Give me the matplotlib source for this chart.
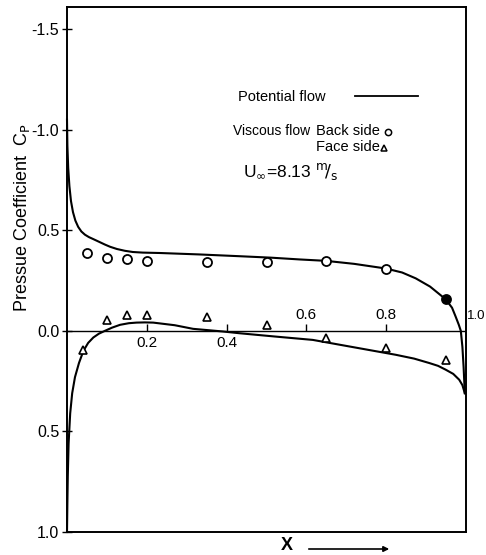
import matplotlib
matplotlib.use("Agg")
import matplotlib.pyplot as plt
from matplotlib.lines import Line2D

# ---------------- data ----------------
# Viscous flow measurements (back side: circles, face side: triangles)
back_x = [0.05, 0.10, 0.15, 0.20, 0.35, 0.50, 0.65, 0.80, 0.95]
back_cp = [-0.388, -0.360, -0.355, -0.348, -0.342, -0.342, -0.347, -0.307, -0.157]
back_filled = [False, False, False, False, False, False, False, False, True]

face_x = [0.04, 0.10, 0.15, 0.20, 0.35, 0.50, 0.65, 0.80, 0.95]
face_cp = [0.094, -0.054, -0.079, -0.079, -0.071, -0.030, 0.036, 0.083, 0.144]

# Potential flow curves
pot_back_x = [0.0, 0.001, 0.003, 0.006, 0.010, 0.015, 0.021, 0.028, 0.036, 0.045,
              0.055, 0.066, 0.080, 0.095, 0.108, 0.125, 0.145, 0.165, 0.190, 0.233,
              0.330, 0.433, 0.510, 0.583, 0.649, 0.720, 0.799, 0.840, 0.874, 0.910,
              0.949, 0.965, 0.974, 0.982, 0.987, 0.991, 0.994, 0.997]
pot_back_cp = [-1.05, -0.92, -0.81, -0.72, -0.645, -0.590, -0.548, -0.517, -0.494, -0.478,
               -0.466, -0.456, -0.443, -0.429, -0.418, -0.407, -0.398, -0.392, -0.389, -0.387,
               -0.380, -0.371, -0.364, -0.355, -0.348, -0.333, -0.310, -0.290, -0.261, -0.220,
               -0.157, -0.115, -0.071, -0.030, 0.000, 0.080, 0.180, 0.310]

pot_face_x = [0.0, 0.001, 0.002, 0.004, 0.008, 0.013, 0.020, 0.030, 0.041, 0.053,
              0.066, 0.080, 0.095, 0.113, 0.133, 0.155, 0.174, 0.195, 0.216, 0.270,
              0.316, 0.390, 0.433, 0.520, 0.616, 0.720, 0.824, 0.870, 0.908, 0.930,
              0.949, 0.968, 0.983, 0.991, 0.997]
pot_face_cp = [1.00, 0.85, 0.72, 0.56, 0.41, 0.31, 0.23, 0.16, 0.100, 0.060,
               0.033, 0.014, 0.000, -0.016, -0.030, -0.038, -0.041, -0.042, -0.041, -0.028,
               -0.010, 0.003, 0.012, 0.028, 0.045, 0.082, 0.119, 0.138, 0.160, 0.174,
               0.193, 0.214, 0.243, 0.270, 0.310]

yticks = [-1.5, -1.0, -0.5, 0.0, 0.5, 1.0]
ytick_labels = ["-1.5", "-1.0", "0.5", "0.0", "0.5", "1.0"]
xticks = [0.2, 0.4, 0.6, 0.8, 1.0]
xtick_labels = ["0.2", "0.4", "0.6", "0.8", "1.0"]

# ---------------- figure ----------------
W, H = 486, 555
fig = plt.figure(figsize=(W / 100, H / 100), dpi=100)
ax = fig.add_axes([67 / W, 1 - 532 / H, (466 - 67) / W, (532 - 7) / H])
ax.set_xlim(0, 1.0)
ax.set_ylim(1.0, -1.61)

for s in ax.spines.values():
    s.set_linewidth(1.4)

txt_font = ["Liberation Sans", "DejaVu Sans"]

# potential flow lines
ax.plot(pot_back_x, pot_back_cp, color="k", lw=1.5, clip_on=False)
ax.plot(pot_face_x, pot_face_cp, color="k", lw=1.5, clip_on=False)

# viscous measurements
for x, c, f in zip(back_x, back_cp, back_filled):
    ax.plot([x], [c], marker="o", ms=6.5, mew=1.3, mec="k",
            mfc="k" if f else "white", ls="none", zorder=3)
ax.plot(face_x, face_cp, marker="^", ms=5.5, mew=1.2, mec="k", mfc="white",
        ls="none", zorder=3)

# zero line with x ticks on it
ax.axhline(0.0, color="k", lw=1.0)
ax.vlines(xticks[:-1], 0.0, -0.035, color="k", lw=1.0)
for x, lab in zip(xticks, xtick_labels):
    if x < 0.5:
        ax.text(x, 0.062, lab, ha="center", va="center", fontsize=11, family=txt_font)
    elif x < 0.99:
        ax.text(x, -0.078, lab, ha="center", va="center", fontsize=11, family=txt_font)
    else:
        ax.text(x + 0.003, -0.072, lab, ha="left", va="center", fontsize=9.5,
                family=txt_font, clip_on=False)

# y ticks
ax.set_yticks(yticks)
ax.set_yticklabels(ytick_labels, fontsize=11.5, family=txt_font)
ax.tick_params(axis="y", direction="inout", length=7, width=1.0, pad=2)
ax.tick_params(axis="x", bottom=False, labelbottom=False)

# y label
fig.text(22 / W, 1 - 218 / H, "Pressue Coefficient  C$_{\\mathrm{P}}$", rotation=90,
         ha="center", va="center", fontsize=13, family=txt_font)

# x label with arrow
fig.text(287 / W, 1 - 546 / H, "X", ha="center", va="center", fontsize=13,
         fontweight="bold", family=txt_font)
ax.annotate("", xy=(392 / W, 1 - 549 / H), xytext=(306 / W, 1 - 549 / H),
            xycoords="figure fraction", textcoords="figure fraction",
            arrowprops=dict(arrowstyle="-|>", lw=1.2, color="k", mutation_scale=8))

# legend-like annotations
fig.text(238 / W, 1 - 97 / H, "Potential flow", ha="left", va="center",
         fontsize=10.5, family=txt_font)
fig.add_artist(Line2D([355 / W, 418 / W], [1 - 96 / H, 1 - 96 / H],
                      transform=fig.transFigure, color="k", lw=1.3))
fig.text(233 / W, 1 - 131 / H, "Viscous flow", ha="left", va="center",
         fontsize=10, family=txt_font)
fig.text(316 / W, 1 - 131 / H, "Back side", ha="left", va="center",
         fontsize=10.5, family=txt_font)
fig.add_artist(Line2D([388 / W], [1 - 132 / H], transform=fig.transFigure,
                      marker="o", ms=4.5, mew=1.1, mec="k", mfc="white", ls="none"))
fig.text(316 / W, 1 - 147 / H, "Face side", ha="left", va="center",
         fontsize=10.5, family=txt_font)
fig.add_artist(Line2D([384 / W], [1 - 148 / H], transform=fig.transFigure,
                      marker="^", ms=4, mew=1.1, mec="k", mfc="white", ls="none"))
fig.text(243 / W, 1 - 172 / H,
         "U$_{\\infty}$=8.13 $^{\\mathrm{m}}\\!/_{\\mathrm{s}}$",
         ha="left", va="center", fontsize=12.5, family=txt_font)

fig.savefig("out.png", dpi=100)
